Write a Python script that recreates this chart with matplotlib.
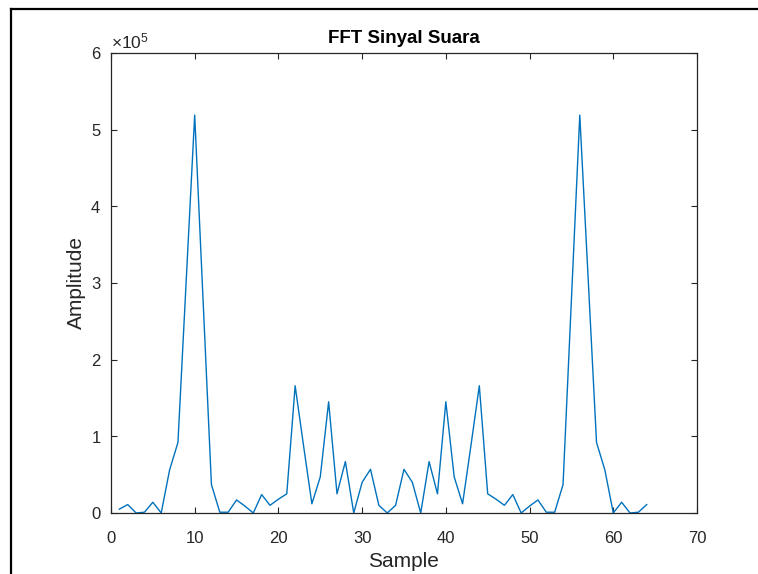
import numpy as np
import matplotlib
matplotlib.use("Agg")
import matplotlib.pyplot as plt
from matplotlib.lines import Line2D
from matplotlib.ticker import ScalarFormatter

plt.rcParams['font.family'] = ['Liberation Sans', 'DejaVu Sans']
plt.rcParams['mathtext.fontset'] = 'custom'
plt.rcParams['mathtext.rm'] = 'Liberation Sans'

# magnitude spectrum, 64 bins (x1e5)
sample = np.arange(1, 65)
amp_e5 = [0.05, 0.11, 0.00, 0.01, 0.14, 0.00, 0.56, 0.92, 3.06, 5.19,
          2.78, 0.37, 0.01, 0.01, 0.17, 0.09, 0.00, 0.24, 0.10, 0.18,
          0.25, 1.66, 0.88, 0.12, 0.47, 1.45, 0.25, 0.67, 0.00, 0.40,
          0.57, 0.10, 0.00, 0.10, 0.57, 0.40, 0.00, 0.67, 0.25, 1.45,
          0.47, 0.12, 0.88, 1.66, 0.25, 0.18, 0.10, 0.24, 0.00, 0.09,
          0.17, 0.01, 0.01, 0.37, 2.78, 5.19, 3.06, 0.92, 0.56, 0.00,
          0.14, 0.00, 0.01, 0.11]
amp = np.array(amp_e5) * 1e5

xticks = np.arange(0, 71, 10)
yticks = np.arange(0, 7e5, 1e5)

ax_col = '#262626'

fig = plt.figure(figsize=(7.58, 5.74), dpi=100)
ax = fig.add_axes([0.1464, 0.1063, 0.7731, 0.8014])

ax.plot(sample, amp, color='#0072BD', linewidth=1.0)

ax.set_xlim(0, 70)
ax.set_ylim(0, 6e5)
ax.set_xticks(xticks)
ax.set_yticks(yticks)

fmt = ScalarFormatter(useMathText=True)
fmt.set_powerlimits((0, 0))
ax.yaxis.set_major_formatter(fmt)
ax.yaxis.get_offset_text().set_fontsize(12.5)
ax.yaxis.get_offset_text().set_color(ax_col)

ax.tick_params(direction='in', length=4, width=0.8, top=True, right=True,
               labelsize=12, colors=ax_col)
ax.tick_params(axis='x', pad=13)
ax.tick_params(axis='y', pad=7)
for s in ax.spines.values():
    s.set_color(ax_col)
    s.set_linewidth(0.9)

ax.set_title('FFT Sinyal Suara', fontsize=13.5, fontweight='bold', color='black', pad=7)
ax.set_xlabel('Sample', fontsize=15, color=ax_col, labelpad=4)
ax.set_ylabel('Amplitude', fontsize=15, color=ax_col, labelpad=3)

# outer frame lines along the top and left edges
fig.add_artist(Line2D([11/758, 1.0], [1 - 9/574, 1 - 9/574], color='black', linewidth=1.6))
fig.add_artist(Line2D([11/758, 11/758], [0.0, 1 - 9/574], color='black', linewidth=1.6))

fig.savefig('out.png', dpi=100)
